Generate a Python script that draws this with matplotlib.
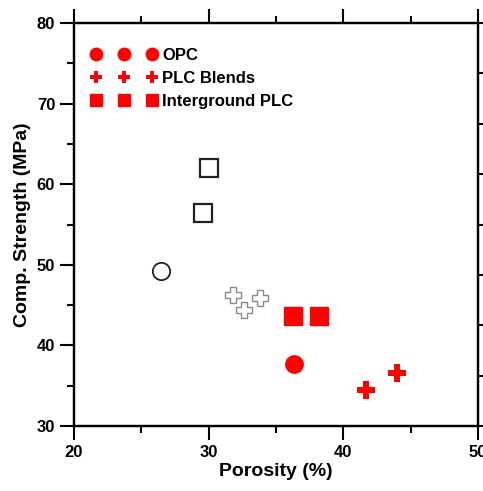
import matplotlib.pyplot as plt
from matplotlib.ticker import MultipleLocator
from matplotlib.lines import Line2D

plt.rcParams['font.family'] = ['Liberation Sans', 'DejaVu Sans']
plt.rcParams['font.weight'] = 'bold'

# 열린 기호 (기준 데이터)
open_circle_x = [26.45]
open_circle_y = [49.2]
open_square_x = [30.0, 29.55]
open_square_y = [62.0, 56.4]
open_cross_x = [31.8, 32.6, 33.8]
open_cross_y = [46.25, 44.4, 45.9]

# 빨간 기호
opc_x = [36.35]
opc_y = [37.7]
plc_x = [41.7, 43.95]
plc_y = [34.5, 36.6]
inter_x = [36.3, 38.2]
inter_y = [43.6, 43.6]

legend_labels = ['OPC', 'PLC Blends', 'Interground PLC']

fig = plt.figure(figsize=(4.83, 4.91), dpi=100)
ax = fig.add_axes([0.153, 0.1324, 0.8367, 0.8206])

ax.plot(open_circle_x, open_circle_y, 'o', ms=12.5, mfc='none', mec='#222222', mew=1.3)
ax.plot(open_square_x, open_square_y, 's', ms=12.5, mfc='none', mec='#222222', mew=1.6)
ax.plot(open_cross_x, open_cross_y, 'P', ms=11, mfc='none', mec='#888888', mew=1.0)

ax.plot(opc_x, opc_y, 'o', ms=12.5, color='red')
ax.plot(plc_x, plc_y, 'P', ms=13, color='red', mew=0)
ax.plot(inter_x, inter_y, 's', ms=12.5, color='red')

ax.set_xlim(20, 50)
ax.set_ylim(30, 80)
ax.xaxis.set_major_locator(MultipleLocator(10))
ax.xaxis.set_minor_locator(MultipleLocator(5))
ax.yaxis.set_major_locator(MultipleLocator(10))
ax.yaxis.set_minor_locator(MultipleLocator(5))
ax.tick_params(which='both', direction='out', width=1.5, top=True, labelsize=12)
ax.tick_params(which='major', length=10)
ax.tick_params(which='minor', length=5)
for s in ax.spines.values():
    s.set_linewidth(1.6)

ax.set_xlabel('Porosity (%)', fontsize=14, fontweight='bold', labelpad=2)
ax.set_ylabel('Comp. Strength (MPa)', fontsize=14, fontweight='bold', labelpad=4)

# 오른쪽 보조 축 (눈금만)
ax2 = ax.twinx()
ax2.set_ylim(0, 8)
ax2.yaxis.set_major_locator(MultipleLocator(1))
ax2.tick_params(direction='out', length=10, width=1.5, labelright=False)
for s in ax2.spines.values():
    s.set_linewidth(1.6)

handles = [
    Line2D([], [], ls='none', marker='o', ms=9, color='red'),
    Line2D([], [], ls='none', marker='P', ms=9, color='red', mew=0),
    Line2D([], [], ls='none', marker='s', ms=8.5, color='red'),
]
ax.legend(handles, legend_labels, loc='upper left', numpoints=3, frameon=False,
          handlelength=4.0, handletextpad=0.3, labelspacing=0.48,
          fontsize=12, bbox_to_anchor=(0.0, 0.98), borderaxespad=0.6)

fig.savefig('out.png', dpi=100)
